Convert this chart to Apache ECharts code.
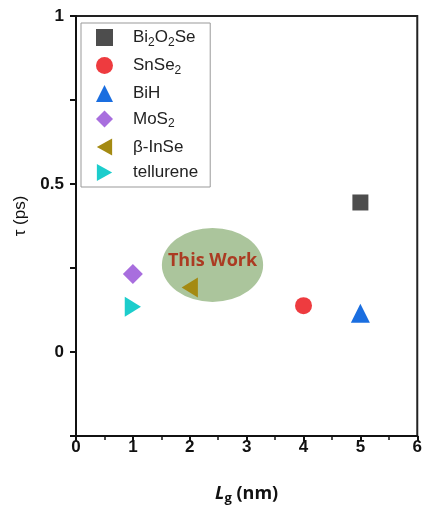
<!DOCTYPE html>
<html>
<head>
<meta charset="utf-8">
<script src="https://cdn.jsdelivr.net/npm/echarts@6/dist/echarts.min.js"></script>
<style>html,body{margin:0;padding:0;background:#fff;}#c{width:425px;height:513px;}</style>
</head>
<body>
<div id="c"></div>
<script>
// ---- data ----
const seriesNames = ['Bi2O2Se', 'SnSe2', 'BiH', 'MoS2', 'β-InSe', 'tellurene'];
const Bi2O2Se = [[5, 0.445]];
const SnSe2 = [[4, 0.138]];
const BiH = [[5, 0.115]];
const MoS2 = [[1, 0.232]];
const InSe = [[2, 0.192]];
const tellurene = [[1, 0.135]];
const highlight = [[2.4, 0.259, 0.89, 0.11]]; // center x, center y, radius x, radius y
const highlightText = 'This Work';
const xTicks = [0, 1, 2, 3, 4, 5, 6];
const yTickLabels = [0, 0.5, 1];

const legendRich = {
  'Bi2O2Se': 'Bi{sub|2}O{sub|2}Se',
  'SnSe2': 'SnSe{sub|2}',
  'BiH': 'BiH',
  'MoS2': 'MoS{sub|2}',
  'β-InSe': 'β-InSe',
  'tellurene': 'tellurene'
};

const chart = echarts.init(document.getElementById('c'));
const F = 'Liberation Sans';
function sc(name, data, symbol, size, color) {
  return {
    name: name, type: 'scatter', data: data, symbol: symbol, symbolSize: size,
    symbolKeepAspect: true,
    itemStyle: { color: color, opacity: 1 }, z: 5
  };
}
const option = {
  animation: false,
  backgroundColor: '#fff',
  grid: { left: 76, right: 6, top: 16, bottom: 77, show: true, borderColor: '#222', borderWidth: 2, backgroundColor: 'transparent' },
  xAxis: {
    type: 'value', min: 0, max: 6, interval: 1,
    axisLine: { onZero: false, lineStyle: { color: '#111', width: 2 } },
    axisTick: { show: true, length: 5, lineStyle: { color: '#111', width: 2 } },
    minorTick: { show: true, splitNumber: 2, length: 4, lineStyle: { color: '#111', width: 1.5 } },
    splitLine: { show: false },
    axisLabel: { color: '#111', fontFamily: F, fontWeight: 'bold', fontSize: 17, margin: 3,
      formatter: v => xTicks.includes(v) ? String(v) : '' },
    name: '{it|L}{sub|g} (nm)', nameLocation: 'middle', nameGap: 47,
    nameTextStyle: {
      color: '#111', fontFamily: 'Open Sans', fontWeight: 'bold', fontSize: 18,
      rich: {
        it: { fontFamily: 'Open Sans', fontStyle: 'italic', fontWeight: 'bold', fontSize: 18, color: '#111' },
        sub: { fontFamily: 'Open Sans', fontWeight: 'bold', fontSize: 13, color: '#111', verticalAlign: 'bottom', padding: [9, 0, 0, 0] }
      }
    }
  },
  yAxis: {
    type: 'value', min: -0.25, max: 1, interval: 0.25,
    axisLine: { onZero: false, lineStyle: { color: '#111', width: 2 } },
    axisTick: { show: true, length: 6, lineStyle: { color: '#111', width: 2 } },
    splitLine: { show: false },
    axisLabel: { color: '#111', fontFamily: F, fontWeight: 'bold', fontSize: 17, margin: 12,
      formatter: v => yTickLabels.some(t => Math.abs(t - v) < 1e-9) ? String(v) : '' },
    name: 'τ (ps)', nameLocation: 'middle', nameGap: 47, nameRotate: 90,
    nameTextStyle: { color: '#111', fontFamily: F, fontSize: 17, padding: [0, 0, 0, 20] }
  },
  legend: {
    orient: 'vertical', left: 81, top: 23,
    data: seriesNames,
    itemWidth: 17, itemHeight: 17, itemGap: 8.5,
    padding: [6, 12, 6, 15],
    borderColor: '#999', borderWidth: 1, backgroundColor: '#fff',
    formatter: n => '{sp|}' + legendRich[n],
    textStyle: {
      fontFamily: F, fontSize: 17, color: '#222',
      rich: {
        sp: { width: 15 },
        sub: { fontFamily: F, fontSize: 12, color: '#222', verticalAlign: 'bottom', padding: [10, 0, 0, 0] }
      }
    }
  },
  series: [
    {
      type: 'custom', name: 'highlight', data: highlight, z: 1, silent: true,
      encode: { x: 0, y: 1 },
      renderItem: function (params, api) {
        const c = api.coord([api.value(0), api.value(1)]);
        const s = api.size([api.value(2), api.value(3)]);
        return {
          type: 'group', children: [
            { type: 'circle', x: c[0], y: c[1], scaleY: s[1] / s[0], shape: { cx: 0, cy: 0, r: s[0] },
              style: { fill: '#abc59c' } },
            { type: 'text', x: c[0], y: c[1] - 4,
              style: { text: highlightText, fill: '#ab3b22', font: 'bold 18px "Open Sans"', align: 'center', verticalAlign: 'middle' } }
          ]
        };
      }
    },
    sc('Bi2O2Se', Bi2O2Se, 'rect', 16, '#4d4d4d'),
    sc('SnSe2', SnSe2, 'circle', 17, '#ee3b3f'),
    sc('BiH', BiH, 'triangle', 19, '#1a6ee0'),
    sc('MoS2', MoS2, 'diamond', 20, '#a86ede'),
    sc('β-InSe', InSe, 'path://M0,10 L18,0 L18,20 Z', [18, 20], '#a48a12'),
    sc('tellurene', tellurene, 'path://M18,10 L0,0 L0,20 Z', [18, 20], '#1ccdcc')
  ]
};
chart.setOption(option);
</script>
</body>
</html>
